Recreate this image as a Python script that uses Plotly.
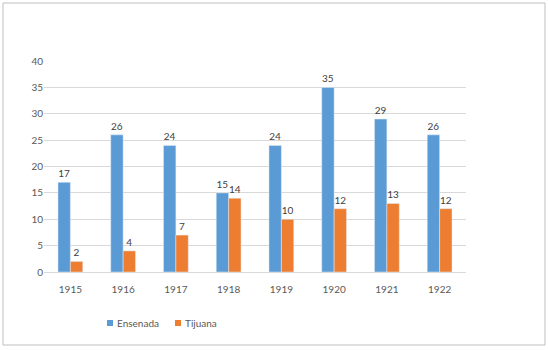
import plotly.graph_objects as go

years = ["1915", "1916", "1917", "1918", "1919", "1920", "1921", "1922"]
ensenada = [17, 26, 24, 15, 24, 35, 29, 26]
tijuana = [2, 4, 7, 14, 10, 12, 13, 12]
y_ticks = [0, 5, 10, 15, 20, 25, 30, 35, 40]
series_names = ["Ensenada", "Tijuana"]
series_colors = ["#5B9BD5", "#ED7D31"]

font = dict(family="Lato, Open Sans, sans-serif", size=10, color="#595959")

L, R, T, B = 44, 82, 61, 78
W, H = 548, 350
PW, PH = W - L - R, H - T - B

def px_x(p):
    return (p - L) / PW

def px_y(p):
    return (H - B - p) / PH

fig = go.Figure()
for name, vals, col in zip(series_names, [ensenada, tijuana], series_colors):
    fig.add_trace(go.Bar(x=years, y=vals, name=name, marker_color=col,
                         text=vals, textposition="outside", cliponaxis=False,
                         textfont=dict(family=font["family"], size=10, color="#404040")))

shapes = [dict(type="rect", xref="paper", yref="paper",
               x0=px_x(3), x1=px_x(545), y0=px_y(345), y1=px_y(3),
               line=dict(color="#BFBFBF", width=1), fillcolor="rgba(0,0,0,0)",
               layer="below")]
annotations = []
legend_x = [107, 175]
for name, col, lx in zip(series_names, series_colors, legend_x):
    shapes.append(dict(type="rect", xref="paper", yref="paper",
                       x0=px_x(lx), x1=px_x(lx + 6), y0=px_y(326), y1=px_y(320),
                       line=dict(width=0), fillcolor=col))
    annotations.append(dict(xref="paper", yref="paper", x=px_x(lx + 8), y=px_y(323),
                            xanchor="left", yanchor="middle", showarrow=False,
                            text=name, font=dict(family=font["family"], size=10,
                                                 color="#595959")))

fig.update_layout(
    width=W, height=H,
    margin=dict(l=L, r=R, t=T, b=B),
    paper_bgcolor="white", plot_bgcolor="white",
    font=font,
    barmode="group", bargap=0.53, bargroupgap=0,
    showlegend=False,
    xaxis=dict(showgrid=False, showline=True, linecolor="#D9D9D9", linewidth=1,
               ticks="", tickfont=font, fixedrange=True, ticklabelstandoff=8),
    yaxis=dict(range=[0, 40], tickvals=y_ticks, showgrid=True, gridcolor="#D9D9D9",
               gridwidth=1, zeroline=False, showline=False, ticks="", ticklen=0,
               tickfont=font, fixedrange=True),
    shapes=shapes,
    annotations=annotations,
)

fig.write_html("out.html")
